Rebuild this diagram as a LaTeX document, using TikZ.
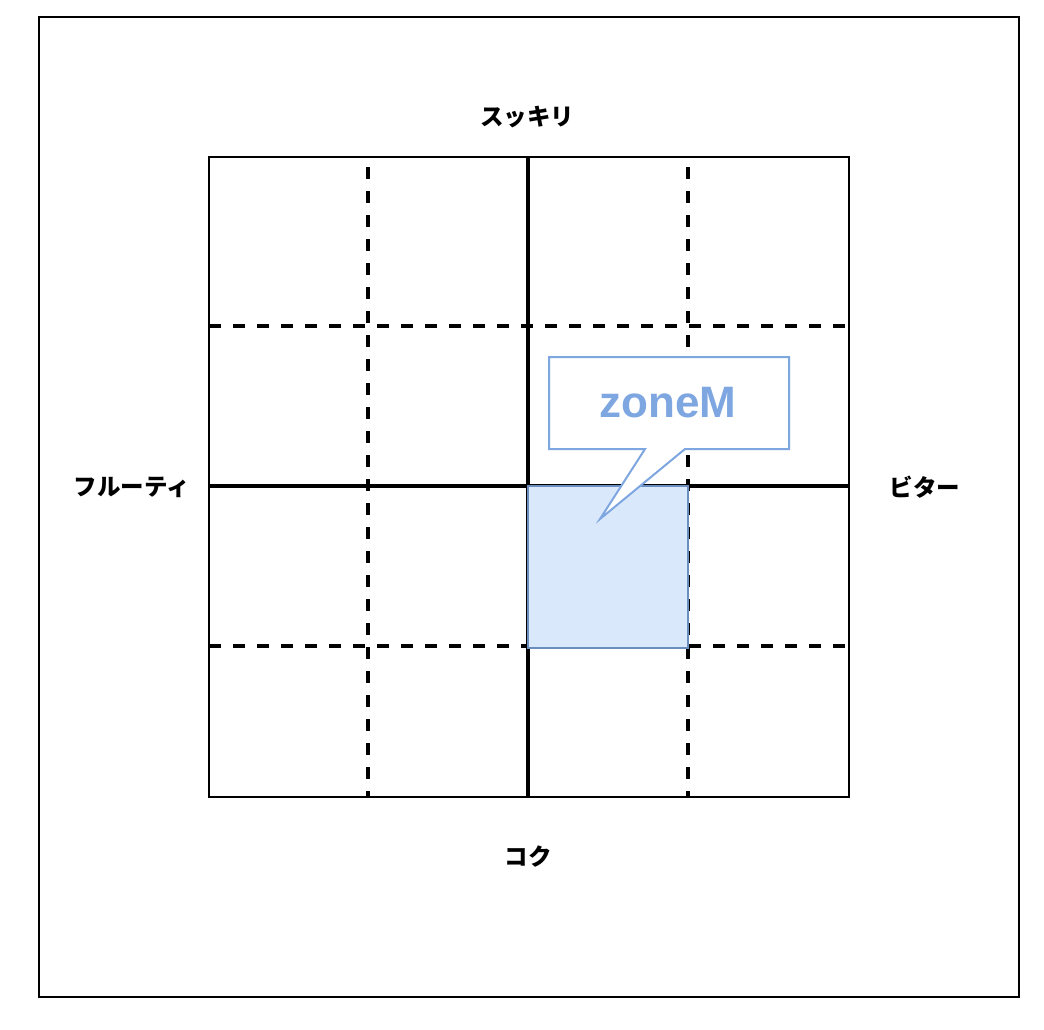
\documentclass[tikz,border=0pt]{standalone}
\usepackage{fontspec}
\newfontfamily\cjk{Noto Sans CJK JP}
\newfontfamily\lsans{Liberation Sans}
\definecolor{calloutblue}{HTML}{7EA6E0}
\definecolor{zonefill}{HTML}{DAE8FC}
\definecolor{zonedraw}{HTML}{6C8EBF}
\tikzset{
  axislabel/.style={font=\cjk\bfseries\fontsize{23.5}{27}\selectfont, inner sep=0pt, anchor=center},
  gridsolid/.style={line width=3.3pt, black},
  griddash/.style={line width=3.3pt, black, dash pattern=on 12pt off 12pt},
}
\begin{document}
\begin{tikzpicture}[x=1pt,y=-1pt]
\useasboundingbox (0,0) rectangle (1044,1030);
\fill[white] (0,0) rectangle (1044,1030);
% outer frame
\draw[line width=2pt] (39,17) rectangle (1019,997);
% dashed grid
\draw[griddash, dash phase=14pt] (368,157) -- (368,797);
\draw[griddash, dash phase=14pt] (688,157) -- (688,797);
\draw[griddash] (209,326) -- (849,326);
\draw[griddash] (209,646) -- (849,646);
% center cross
\draw[gridsolid] (528,157) -- (528,797);
\draw[gridsolid] (209,486) -- (849,486);
% inner square
\draw[line width=2.5pt] (209,157) rectangle (849,797);
% highlighted zone
\draw[fill=zonefill, draw=zonedraw, line width=2pt] (528,486) rectangle (688,648);
% callout
\draw[fill=white, draw=calloutblue, line width=2pt]
  (549,357) -- (789,357) -- (789,449) -- (685,449) -- (600,519) -- (645,449) -- (549,449) -- cycle;
\node[font=\lsans\bfseries\fontsize{44}{50}\selectfont, text=calloutblue, inner sep=0pt] (zone) at (668,403) {zoneM};
% axis labels
\node[axislabel] (top) at (527,117) {スッキリ};
\node[axislabel] (bottom) at (528,857) {コク};
\node[axislabel] (left) at (132,487) {フルーティ};
\node[axislabel] (right) at (925,487) {ビター};
\end{tikzpicture}
\end{document}
